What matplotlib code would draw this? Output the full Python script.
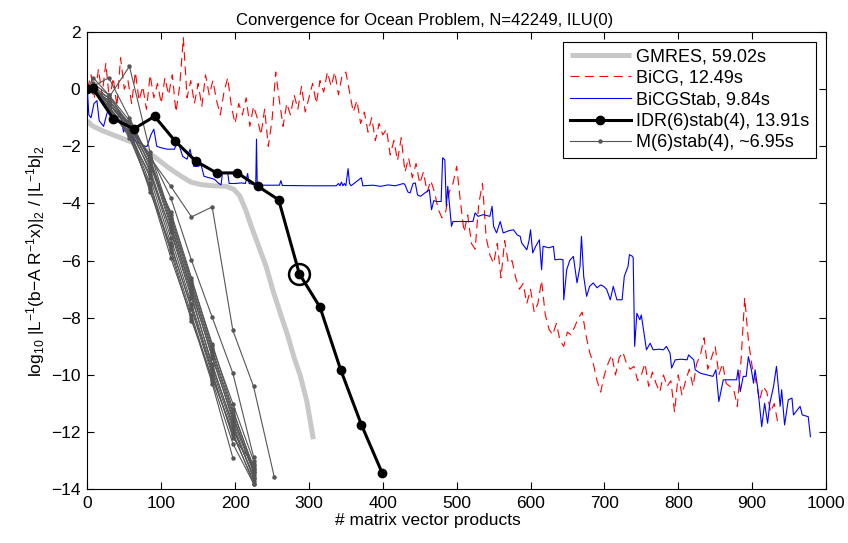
import numpy as np
import matplotlib
matplotlib.use("Agg")
import matplotlib.pyplot as plt

plt.rcParams["font.family"] = ["Liberation Sans", "DejaVu Sans"]
plt.rcParams["mathtext.fontset"] = "custom"
plt.rcParams["mathtext.rm"] = "Liberation Sans"
plt.rcParams["mathtext.it"] = "Liberation Sans:italic"

# ── Datos ─────────────────────────────────────────────────────────────────
GMRES_X = [0, 6, 20, 40, 63, 80, 95, 110, 126, 140, 154, 170, 188, 198, 206,
           214, 222, 232, 242, 252, 262, 271, 280, 288, 297, 301, 306]
GMRES_Y = [-1.1, -1.27, -1.45, -1.65, -1.88, -2.15, -2.45, -2.75, -3.03, -3.25,
           -3.34, -3.38, -3.40, -3.5, -3.72, -4.2, -4.8, -5.5, -6.2, -7.1, -7.9,
           -8.6, -9.4, -10.0, -10.9, -11.5, -12.25]

# BiCG: un valor cada 5 productos matriz-vector
BICG_STEP = 5
BICG_Y = [0.0, 0.5, -0.3, 0.7, -0.2, 0.9, -0.4, 0.4, -0.6, 1.1,
          0.0, 0.3, -0.5, 0.6, -0.4, 0.1, -0.7, 0.5, -0.3, 0.2,
          -0.5, 0.4, -0.2, 0.5, -0.8, 0.1, 1.8, -0.3, 0.3, -0.5,
          0.2, -0.6, 0.5, -0.2, 0.3, -0.4, -0.9, -0.1, 0.4, -0.6,
          -1.2, -0.5, -0.9, -0.3, -1.3, -0.6, -1.0, -1.6, -0.7, -2.0,
          -1.1, 0.6, -0.4, -1.3, -0.5, -0.9, -0.2, -0.7, 0.1, -0.8,
          -0.3, 0.2, -0.5, 0.3, -0.1, 0.6, 0.1, 0.6, -0.2, 0.5,
          0.6, -0.1, -0.8, -0.4, -1.2, -0.8, -1.5, -1.0, -1.8, -1.2,
          -1.6, -1.4, -2.3, -1.8, -2.5, -1.7, -2.9, -2.4, -3.1, -2.6,
          -3.3, -2.9, -3.6, -3.2, -3.6, -4.2, -4.5, -4.3, -3.6, -3.3,
          -2.7, -3.9, -5.0, -4.4, -5.4, -5.6, -4.0, -3.3, -5.2, -5.8,
          -6.1, -5.4, -6.6, -5.3, -6.1, -6.0, -6.6, -7.0, -6.8, -7.5,
          -7.0, -7.8, -7.5, -6.7, -7.9, -8.4, -8.6, -8.2, -8.8, -9.0,
          -8.5, -8.6, -8.3, -8.0, -7.8, -8.6, -9.2, -9.6, -10.2, -10.6,
          -10.0, -9.6, -9.3, -10.0, -9.4, -9.2, -9.6, -9.8, -9.7, -10.2,
          -10.0, -9.6, -10.4, -9.9, -10.3, -10.6, -10.0, -10.4, -10.2, -11.3,
          -10.0, -10.7, -10.2, -9.8, -10.4, -9.6, -9.3, -8.7, -9.8, -9.4,
          -9.0, -10.0, -9.6, -10.3, -10.4, -10.5, -11.1, -9.5, -7.3, -8.8,
          -9.7, -10.2, -10.9, -10.4, -10.6, -11.3, -11.0, -11.7]

BICGSTAB_X = [0, 2, 5, 9, 13, 16, 22, 26, 31, 34, 40, 44, 49, 54, 58, 63, 72, 78,
              81, 86, 90, 94, 100, 108, 118, 122, 126, 129, 135, 139, 144, 150,
              154, 158, 165, 172, 178, 181, 183, 190, 192, 200, 208, 214, 217,
              219, 228, 229, 230, 240, 260, 262, 264, 300, 337, 340, 342, 344,
              346, 348, 350, 353, 355, 357, 371, 373, 387, 397, 407, 417, 428,
              430, 434, 437, 441, 444, 447, 451, 456, 463, 466, 469, 473, 479,
              481, 484, 486, 488, 491, 493, 495, 506, 522, 525, 529, 536, 545,
              548, 550, 554, 559, 563, 571, 577, 582, 586, 588, 595, 598, 600,
              603, 607, 612, 615, 617, 625, 631, 633, 640, 644, 645, 649, 653,
              658, 663, 667, 669, 672, 676, 680, 685, 690, 695, 699, 703, 708,
              712, 717, 724, 727, 732, 734, 738, 739, 741, 744, 748, 750, 755,
              757, 762, 766, 774, 780, 784, 789, 791, 796, 804, 812, 814, 821,
              823, 830, 839, 847, 851, 855, 861, 879, 881, 884, 888, 892, 895,
              899, 902, 904, 908, 913, 917, 921, 924, 929, 933, 938, 940, 944,
              949, 954, 956, 965, 968, 976, 979]
BICGSTAB_Y = [0.0, -0.9, -1.0, -0.5, -0.4, -1.1, -1.3, -0.9, -0.5, -1.0, -1.1,
              -0.8, -1.5, -1.1, -1.4, -1.8, -1.9, -2.0, -2.0, -1.6, -1.4, -2.0,
              -2.05, -2.1, -2.1, -1.8, -2.1, -2.35, -2.45, -2.1, -2.7, -2.7,
              -2.65, -3.05, -3.1, -3.15, -3.3, -3.35, -2.93, -2.93, -3.3, -3.3,
              -3.28, -3.3, -2.95, -3.3, -3.35, -1.75, -3.35, -3.36, -3.36, -3.2,
              -3.37, -3.38, -3.38, -3.3, -3.38, -3.25, -3.38, -3.3, -3.38, -2.78,
              -3.3, -3.38, -3.1, -3.38, -3.36, -3.4, -3.35, -3.38, -3.3, -3.34,
              -3.6, -3.63, -3.3, -3.28, -3.7, -3.75, -3.65, -3.52, -4.22, -3.9,
              -3.93, -3.93, -2.4, -2.47, -4.1, -3.4, -4.22, -4.8, -4.63, -4.63,
              -4.63, -4.33, -4.45, -4.39, -4.45, -4.1, -4.8, -5.03, -4.63, -5.03,
              -4.95, -4.92, -5.1, -5.15, -5.38, -5.62, -5.3, -4.92, -5.73, -5.5,
              -5.27, -6.32, -5.5, -5.55, -5.5, -5.97, -5.95, -5.97, -7.37, -6.32,
              -6.0, -5.85, -6.78, -6.2, -5.15, -6.55, -7.25, -6.9, -6.78, -6.95,
              -6.85, -6.9, -7.0, -7.37, -6.9, -7.37, -7.37, -6.55, -6.2, -5.79,
              -5.85, -5.9, -9.0, -7.84, -8.07, -7.9, -8.77, -9.12, -8.89, -9.12,
              -9.1, -9.12, -9.0, -9.24, -9.76, -9.47, -9.45, -9.47, -9.3, -9.47,
              -9.82, -9.94, -10.0, -10.05, -9.82, -10.93, -10.17, -10.17, -9.82,
              -10.58, -10.05, -10.05, -9.36, -9.82, -10.29, -9.82, -10.52, -11.81,
              -10.99, -11.69, -10.99, -10.41, -9.7, -11.1, -10.52, -11.75, -10.87,
              -10.81, -11.4, -11.1, -11.4, -11.46, -12.16]

IDR_X = [0, 7, 35, 63, 91, 119, 147, 175, 203, 231, 259, 287, 315, 343, 371, 399]
IDR_Y = [0.0, 0.05, -1.03, -1.39, -0.95, -1.82, -2.52, -2.93, -2.93, -3.40,
         -3.87, -6.46, -7.63, -9.82, -11.74, -13.42]
IDR_MARK = 11  # punto rodeado con círculo

M_X = [0, 8, 29, 57, 85, 113, 141, 169, 197, 225, 253]
M_RUNS = [
    [0, 0.1, -0.5, -1.4, -2.8, -5.0, -7.3, -9.6, -11.8, -13.6],
    [0, 0.0, -0.7, -1.5, -3.3, -5.6, -7.9, -10.2, -12.4, -13.8],
    [0, 0.0, -0.3, -1.2, -2.4, -4.6, -6.9, -9.2, -11.4, -13.4],
    [0, 0.4, -0.2, -1.3, -2.6, -4.8, -7.0, -9.4, -11.5, -13.3],
    [0, -0.1, -0.6, -1.6, -3.5, -5.9, -8.0, -10.3, -12.9],
    [0, 0.0, -0.4, -1.3, -2.9, -5.2, -7.5, -9.8, -11.9, -13.5],
    [0, 0.1, -0.3, 0.8, -2.2, -4.5, -6.8, -9.1, -11.3, -13.2],
    [0, 0.1, 0.4, -1.0, -2.5, -4.7, -7.1, -9.3, -11.6, -13.4],
    [0, 0.0, -0.6, -1.5, -3.1, -5.4, -7.7, -10.0, -12.1, -13.7],
    [0, 0.0, -0.5, -1.4, -3.6, -5.5, -7.6, -9.9, -12.2, -13.1],
    [0, 0.0, -0.4, -1.2, -2.7, -4.3, -6.6, -9.0, -11.0, -13.0],
    [0, 0.0, -0.7, -1.6, -3.0, -4.9, -7.2, -9.7, -11.7, -13.6],
    [0, 0.2, -0.2, -1.1, -2.5, -4.4, -6.7, -8.9, -11.2, -13.3],
    [0, 0.0, -0.6, -1.7, -3.4, -5.7, -8.1, -10.1, -12.0, -13.8],
    [0, 0.0, -0.5, -1.3, -2.4, -3.4, -4.47, -4.12, -8.44, -10.4, -13.56],
    [0, 0.0, -0.5, -1.3, -2.3, -3.8, -5.99, -7.98, -9.94, -12.86],
]

# ── Figura ────────────────────────────────────────────────────────────────
fig = plt.figure(figsize=(8.48, 5.43), dpi=100)
ax = fig.add_axes([0.103, 0.099, 0.871, 0.842])

bicg_x = BICG_STEP * np.arange(len(BICG_Y))

ax.plot(GMRES_X, GMRES_Y, color="#c8c8c8", linewidth=3.6,
        solid_capstyle="butt", label="GMRES, 59.02s", zorder=2)
ax.plot(bicg_x, BICG_Y, color="red", linewidth=0.8, dashes=(8, 5),
        label="BiCG, 12.49s", zorder=1)
ax.plot(BICGSTAB_X, BICGSTAB_Y, color="blue", linewidth=0.8,
        label="BiCGStab, 9.84s", zorder=3)
ax.plot(IDR_X, IDR_Y, color="black", linewidth=2.2, marker="o",
        markersize=6, label="IDR(6)stab(4), 13.91s", zorder=5)
for i, run in enumerate(M_RUNS):
    ax.plot(M_X[:len(run)], run, color="#555555", linewidth=0.8, marker="o",
            markersize=2.2, label="M(6)stab(4), ~6.95s" if i == 0 else None,
            zorder=4)
ax.plot(IDR_X[IDR_MARK], IDR_Y[IDR_MARK], marker="o", markersize=15,
        markerfacecolor="none", markeredgecolor="black",
        markeredgewidth=1.8, zorder=6)

ax.set_xlim(0, 1000)
ax.set_ylim(-14, 2)
ax.set_xticks(np.arange(0, 1001, 100))
ax.set_yticks(np.arange(-14, 3, 2))
ax.tick_params(direction="in", top=True, right=True, length=5,
               labelsize=12.5, width=0.8, pad=5)
for s in ax.spines.values():
    s.set_linewidth(0.8)

ax.set_title("Convergence for Ocean Problem, N=42249, ILU(0)",
             fontsize=12, pad=5, x=0.457)
ax.set_xlabel("# matrix vector products", fontsize=12.5, labelpad=1, x=0.461)
ax.set_ylabel(r"log$_{10}$ |L$^{-1}$(b$-$A R$^{-1}$x)|$_2$ / |L$^{-1}$b|$_2$",
              fontsize=12.5, labelpad=3)

leg = ax.legend(loc="upper right", fontsize=13, handlelength=3.4,
                handletextpad=0.3, borderpad=0.35, labelspacing=0.25,
                fancybox=False, framealpha=1, edgecolor="black",
                borderaxespad=0.55)
leg.get_frame().set_linewidth(0.8)

fig.savefig("out.png", dpi=100)
